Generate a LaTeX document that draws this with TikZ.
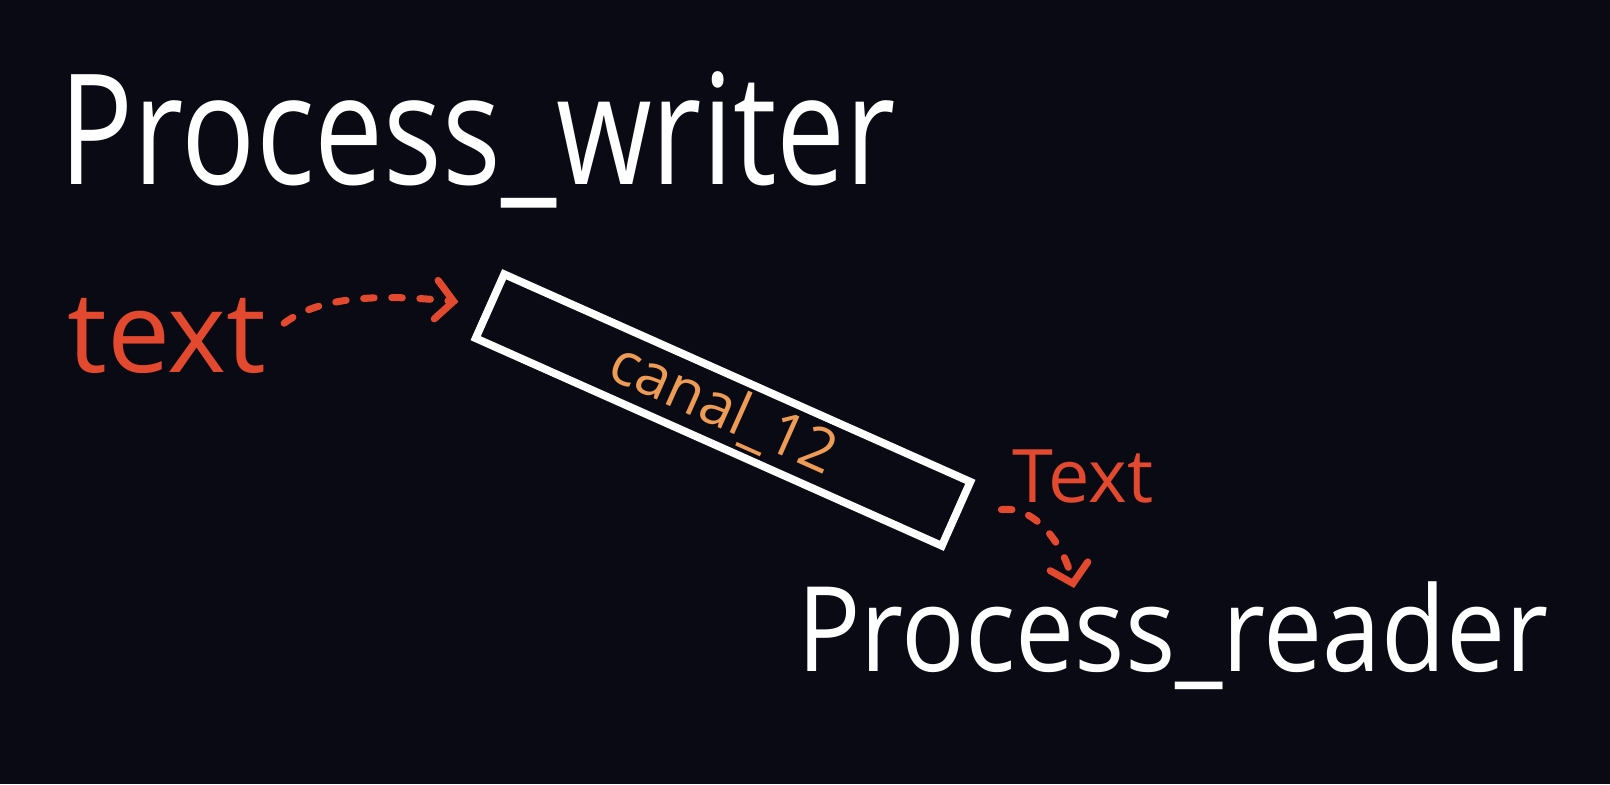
\documentclass[tikz,border=0pt]{standalone}
\usepackage{fontspec}
\setmainfont{Open Sans}
\usetikzlibrary{arrows.meta}
\definecolor{board}{HTML}{0A0A14}
\definecolor{chalkred}{HTML}{E2492F}
\definecolor{chalkorange}{HTML}{EE9C55}
\tikzstyle{proc} = [text=white, inner sep=0pt, anchor=center]
\tikzstyle{note} = [text=chalkred, inner sep=0pt]
\tikzstyle{chan} = [rectangle, draw=white, line width=2.2pt, text=chalkorange,
    minimum width=5.1cm, minimum height=0.7cm, inner sep=0pt,
    font=\fontsize{17}{20}\selectfont]
\tikzstyle{line} = [draw=chalkred, line width=2pt, line cap=round,
    dash pattern=on 3pt off 5pt,
    -{Straight Barb[length=5pt, width=11pt, line width=2pt, line cap=round]}]

\begin{document}
\begin{tikzpicture}[x=0.01cm, y=-0.01cm]
        \fill[board] (0,0) rectangle (1610,784);
        \useasboundingbox (0,0) rectangle (1610,784);

        % Place nodes
        % 1. Writer process and its input
        \node [proc, yscale=1.25, font=\fontsize{35}{40}\selectfont] (wrtr) at (478,140) {Process\_writer};
        \node [note, font=\fontsize{32}{36}\selectfont] (txt1) at (167,336) {text};

        % 2. The channel between the processes
        \node [chan, rotate=-24] (cana) at (723,410) {canal\_12};

        % 3. Reader process and its output
        \node [note, font=\fontsize{21}{24}\selectfont] (txt2) at (1083,476) {Text};
        \node [proc, yscale=1.12, font=\fontsize{30}{36}\selectfont] (rder) at (1173,636) {Process\_reader};
        \coordinate (rdtp) at (1074,588); % virtual point above the reader

        % Draw edges
        \path [line, shorten <=6pt, shorten >=8pt] (txt1.east) .. controls (320,296) and (380,294) .. (cana.west);
        \path [line, shorten <=12pt] (cana.east) .. controls (1035,505) and (1064,545) .. (rdtp);
      \end{tikzpicture}
\end{document}
